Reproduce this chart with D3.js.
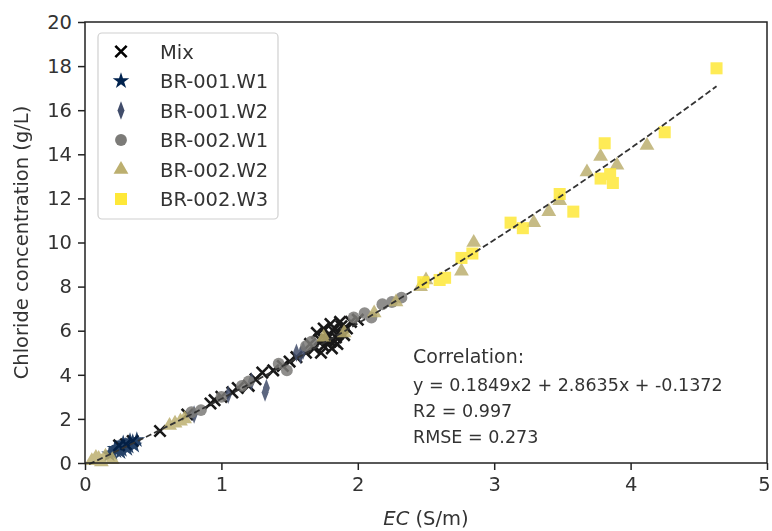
<!DOCTYPE html>
<html>
<head>
<meta charset="utf-8">
<script src="https://cdn.jsdelivr.net/npm/d3@7"></script>
<style>
  body { margin: 0; background: #fff; }
  svg { display: block; font-family: "DejaVu Sans", sans-serif; }
</style>
</head>
<body>
<svg id="chart"></svg>
<script>
const width = 772;
const height = 531;
const margin = { top: 22, right: 5, bottom: 68, left: 85 };

// series values, [EC (S/m), chloride (g/L)]
const mixPts = [
  [0.55, 1.45], [0.75, 2.2], [0.92, 2.7], [0.95, 2.85], [1.0, 3.0], [1.08, 3.2],
  [1.12, 3.4], [1.2, 3.5], [1.25, 3.8], [1.3, 4.1], [1.38, 4.2], [1.45, 4.4],
  [1.5, 4.6], [1.55, 4.8], [1.62, 5.0], [1.65, 5.4], [1.68, 5.2], [1.7, 5.9],
  [1.72, 5.6], [1.73, 5.0], [1.75, 5.3], [1.75, 6.1], [1.77, 5.6], [1.78, 5.8],
  [1.8, 5.5], [1.8, 6.3], [1.81, 5.2], [1.82, 6.0], [1.83, 5.5], [1.84, 5.7],
  [1.85, 5.4], [1.86, 5.9], [1.87, 6.4], [1.88, 6.2], [1.9, 5.8], [1.92, 6.1],
  [1.95, 6.4], [2.0, 6.5], [0.3, 0.85], [0.35, 1.0], [0.25, 0.8]
];
const br001w1Pts = [
  [0.18, 0.4], [0.2, 0.45], [0.22, 0.65], [0.23, 0.55], [0.25, 0.7], [0.26, 0.5],
  [0.27, 0.6], [0.28, 0.9], [0.3, 0.8], [0.31, 0.65], [0.32, 0.75], [0.33, 1.0],
  [0.35, 0.95], [0.36, 0.8], [0.38, 1.05]
];
const br001w2Pts = [
  [0.8, 2.2], [1.05, 3.1], [1.22, 3.7], [1.32, 3.2], [1.33, 3.4], [1.55, 5.0],
  [1.58, 4.9], [1.6, 5.1]
];
const br002w1Pts = [
  [0.78, 2.3], [0.85, 2.4], [1.0, 3.0], [1.15, 3.5], [1.2, 3.7], [1.42, 4.5],
  [1.48, 4.2], [1.62, 5.3], [1.66, 5.5], [1.97, 6.6], [2.05, 6.8], [2.1, 6.6],
  [2.18, 7.2], [2.25, 7.3], [2.32, 7.5]
];
const br002w2Pts = [
  [0.05, 0.1], [0.08, 0.25], [0.1, 0.2], [0.12, 0.05], [0.15, 0.3], [0.2, 0.15],
  [0.62, 1.7], [0.66, 1.8], [0.7, 1.9], [0.73, 2.0], [1.75, 5.7], [1.9, 5.9],
  [2.12, 6.8], [2.28, 7.3], [2.46, 8.0], [2.5, 8.3], [2.76, 8.7], [2.85, 10.0],
  [3.29, 10.9], [3.4, 11.4], [3.48, 11.9], [3.68, 13.2], [3.78, 13.9], [3.9, 13.5],
  [4.12, 14.4]
];
const br002w3Pts = [
  [2.48, 8.2], [2.6, 8.3], [2.64, 8.4], [2.76, 9.3], [2.84, 9.5], [3.12, 10.9],
  [3.21, 10.65], [3.48, 12.2], [3.58, 11.4], [3.78, 12.9], [3.81, 14.5],
  [3.85, 13.1], [3.87, 12.7], [4.25, 15.0], [4.63, 17.9]
];

const seriesNames = ["Mix", "BR-001.W1", "BR-001.W2", "BR-002.W1", "BR-002.W2", "BR-002.W3"];
const seriesColors = ["#000000", "#00224e", "#414d6b", "#7c7b78", "#bcaf6f", "#fee838"];
const seriesData = [mixPts, br001w1Pts, br001w2Pts, br002w1Pts, br002w2Pts, br002w3Pts];

// quadratic fit shown on the chart
const fitCoef = [0.1849, 2.8635, -0.1372];
const fitRange = [0.03, 4.63];
const fitLines = ["y = 0.1849x2 + 2.8635x + -0.1372", "R2 = 0.997", "RMSE = 0.273"];

const xTicks = [0, 1, 2, 3, 4, 5];
const yTicks = [0, 2, 4, 6, 8, 10, 12, 14, 16, 18, 20];

const svg = d3.select("#chart").attr("width", width).attr("height", height);

const xScale = d3.scaleLinear().domain([0, 5]).range([margin.left, width - margin.right]);
const yScale = d3.scaleLinear().domain([0, 20]).range([height - margin.bottom, margin.top]);

// marker shapes for each series
function markerPath(i) {
  if (i === 0) return d3.symbol(d3.symbolX, 85)();
  if (i === 1) return d3.symbol(d3.symbolStar, 85)();
  if (i === 2) return d3.symbol(d3.symbolDiamond, 100)();
  if (i === 3) return d3.symbol(d3.symbolCircle, 110)();
  if (i === 4) return d3.symbol(d3.symbolTriangle, 95)();
  return d3.symbol(d3.symbolSquare, 145)();
}
function markerScale(i) {
  return i === 2 ? " scale(0.65,1)" : "";
}
function styleMarker(sel, i) {
  if (i === 0) {
    sel.attr("fill", "none").attr("stroke", "#000").attr("stroke-width", 2.6);
  } else {
    sel.attr("fill", seriesColors[i]);
  }
}

// points
seriesData.forEach((pts, i) => {
  const g = svg.append("g").attr("opacity", i === 0 ? 0.9 : 0.85);
  const marks = g.selectAll("path")
    .data(pts)
    .enter()
    .append("path")
    .attr("d", markerPath(i))
    .attr("transform", (d) => `translate(${xScale(d[0])},${yScale(d[1])})` + markerScale(i));
  styleMarker(marks, i);
});

// fit line
const fitX = d3.range(fitRange[0], fitRange[1] + 0.001, 0.05);
const fitPts = fitX.map((x) => [x, fitCoef[0] * x * x + fitCoef[1] * x + fitCoef[2]]);
svg.append("path")
  .datum(fitPts)
  .attr("fill", "none")
  .attr("stroke", "#333")
  .attr("stroke-width", 1.8)
  .attr("stroke-dasharray", "6,3")
  .attr("d", d3.line().x((d) => xScale(d[0])).y((d) => yScale(d[1])));

// axes
const xAxis = d3.axisBottom(xScale).tickValues(xTicks).tickFormat(d3.format("d")).tickSize(7).tickPadding(7);
const gx = svg.append("g")
  .attr("transform", `translate(0, ${height - margin.bottom})`)
  .call(xAxis);

const yAxis = d3.axisLeft(yScale).tickValues(yTicks).tickFormat(d3.format("d")).tickSize(7).tickPadding(6);
const gy = svg.append("g")
  .attr("transform", `translate(${margin.left}, 0)`)
  .call(yAxis);

[gx, gy].forEach((g) => {
  g.select(".domain").remove();
  g.selectAll("line").attr("stroke", "#222").attr("stroke-width", 1.5);
  g.selectAll("text").attr("fill", "#333").style("font-size", "19.5px").style("font-family", "DejaVu Sans");
});
// last x tick label sits at the right edge; keep it inside the window
gx.selectAll(".tick text").filter((d) => d === 5).attr("dx", "-3");

// frame
svg.append("rect")
  .attr("x", margin.left)
  .attr("y", margin.top)
  .attr("width", width - margin.left - margin.right)
  .attr("height", height - margin.top - margin.bottom)
  .attr("fill", "none")
  .attr("stroke", "#222")
  .attr("stroke-width", 1.5);

// axis labels
const xLabel = svg.append("text")
  .attr("x", (margin.left + width - margin.right) / 2)
  .attr("y", height - 6)
  .attr("text-anchor", "middle")
  .attr("fill", "#333")
  .style("font-size", "19.5px");
xLabel.append("tspan").style("font-style", "italic").text("EC");
xLabel.append("tspan").text(" (S/m)");

svg.append("text")
  .attr("x", -(margin.top + height - margin.bottom) / 2)
  .attr("y", 28)
  .attr("transform", "rotate(-90)")
  .attr("text-anchor", "middle")
  .attr("fill", "#333")
  .style("font-size", "19.5px")
  .text("Chloride concentration (g/L)");

// legend
const legend = svg.append("g");
legend.append("rect")
  .attr("x", 98)
  .attr("y", 33)
  .attr("width", 180)
  .attr("height", 186)
  .attr("rx", 4)
  .attr("fill", "#fff")
  .attr("fill-opacity", 0.8)
  .attr("stroke", "#d0d0d0")
  .attr("stroke-width", 1.2);

seriesNames.forEach((name, i) => {
  const cy = 51.5 + i * 29.5;
  const m = legend.append("path")
    .attr("d", markerPath(i))
    .attr("transform", `translate(121,${cy})` + markerScale(i));
  styleMarker(m, i);
  legend.append("text")
    .attr("x", 160)
    .attr("y", cy + 7)
    .attr("fill", "#333")
    .style("font-size", "19.5px")
    .text(name);
});

// correlation annotation
svg.append("text")
  .attr("x", 413)
  .attr("y", 363)
  .attr("fill", "#333")
  .style("font-size", "19px")
  .text("Correlation:");

fitLines.forEach((t, i) => {
  svg.append("text")
    .attr("x", 413)
    .attr("y", 391 + i * 26)
    .attr("fill", "#333")
    .style("font-size", "17.5px")
    .text(t);
});
</script>
</body>
</html>
